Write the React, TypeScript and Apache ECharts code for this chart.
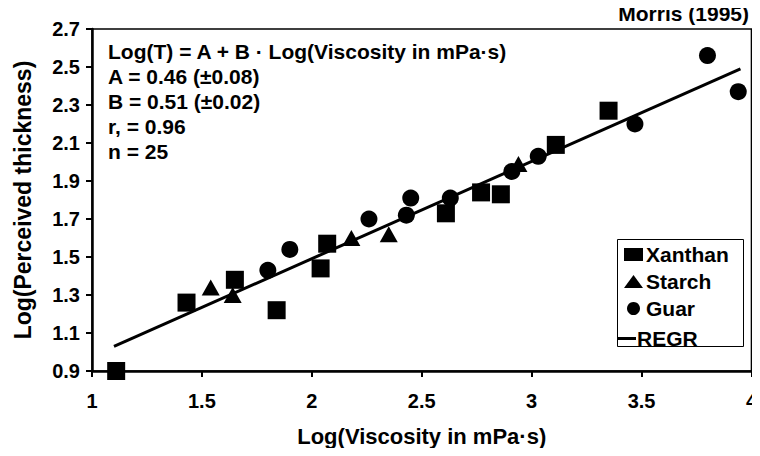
import React, { useEffect, useRef } from "react";
import * as echarts from "echarts";

const xanthan: number[][] = [
  [1.11, 0.9], [1.43, 1.26], [1.65, 1.38], [1.84, 1.22], [2.04, 1.44], [2.07, 1.57],
  [2.61, 1.73], [2.77, 1.84], [2.86, 1.83], [3.11, 2.09], [3.35, 2.27],
];
const starch: number[][] = [
  [1.54, 1.34], [1.64, 1.3], [2.18, 1.6], [2.35, 1.62], [2.94, 1.99],
];
const guar: number[][] = [
  [1.8, 1.43], [1.9, 1.54], [2.26, 1.7], [2.43, 1.72], [2.45, 1.81], [2.63, 1.81],
  [2.91, 1.95], [3.03, 2.03], [3.47, 2.2], [3.8, 2.56], [3.94, 2.37],
];
const regr: number[][] = [[1.1, 1.03], [3.95, 2.49]];

const yTicks = [0.9, 1.1, 1.3, 1.5, 1.7, 1.9, 2.1, 2.3, 2.5, 2.7];
const xTicks = [1, 1.5, 2, 2.5, 3, 3.5, 4];

const annotation = [
  "Log(T) = A + B · Log(Viscosity in mPa·s)",
  "A = 0.46 (±0.08)",
  "B = 0.51 (±0.02)",
  "r, = 0.96",
  "n = 25",
];
const sourceNote = "Morris (1995)";

const FONT = "'Liberation Sans', Arial, Helvetica, sans-serif";

export default function App() {
  const ref = useRef<HTMLDivElement>(null);
  useEffect(() => {
    if (!ref.current) return;
    const chart = echarts.init(ref.current, null, { renderer: "svg" });
    const scatterBase = {
      type: "scatter" as const,
      symbolKeepAspect: true,
      itemStyle: { color: "#000", opacity: 1 },
      emphasis: { disabled: true },
    };
    const legendText = { fontFamily: FONT, fontWeight: "bold", fontSize: 21, color: "#000" };
    chart.setOption({
      animation: false,
      backgroundColor: "#fff",
      textStyle: { fontFamily: FONT, color: "#000" },
      grid: {
        left: 92, right: 5, top: 29, bottom: 85,
        show: true, borderColor: "#000", borderWidth: 1.5, backgroundColor: "transparent",
      },
      xAxis: {
        type: "value",
        min: 1, max: 4, interval: 0.5,
        name: "Log(Viscosity in mPa·s)",
        nameLocation: "middle",
        nameGap: 54,
        nameTextStyle: { fontFamily: FONT, fontWeight: "bold", fontSize: 22, color: "#000" },
        axisLine: { show: true, onZero: false, lineStyle: { color: "#000", width: 2.5 } },
        axisTick: { show: true, length: 6, lineStyle: { color: "#000", width: 2 },
          customValues: xTicks },
        axisLabel: { fontFamily: FONT, fontWeight: "bold", fontSize: 20, color: "#000", margin: 20,
          customValues: xTicks, formatter: (v: number) => String(v) },
        splitLine: { show: false },
      },
      yAxis: {
        type: "value",
        min: 0.9, max: 2.7,
        name: "Log(Perceived thickness)",
        nameLocation: "middle",
        nameGap: 58,
        nameTextStyle: { fontFamily: FONT, fontWeight: "bold", fontSize: 23, color: "#000" },
        axisLine: { show: true, onZero: false, lineStyle: { color: "#000", width: 2.5 } },
        axisTick: { show: true, length: 6, lineStyle: { color: "#000", width: 2 },
          customValues: yTicks },
        axisLabel: { fontFamily: FONT, fontWeight: "bold", fontSize: 20, color: "#000", margin: 12,
          customValues: yTicks, formatter: (v: number) => v.toFixed(1) },
        splitLine: { show: false },
      },
      legend: [
        {
          left: 624, top: 244,
          orient: "vertical",
          padding: 0,
          itemGap: 6,
          itemWidth: 19,
          itemHeight: 13,
          textStyle: { ...legendText, padding: [0, 0, 0, -2] },
          data: ["Xanthan", "Starch", "Guar"],
        },
        {
          left: 617, top: 328,
          orient: "vertical",
          padding: 0,
          itemWidth: 19,
          itemHeight: 3,
          icon: "rect",
          textStyle: { ...legendText, padding: [0, 0, 0, -4] },
          data: ["REGR"],
        },
      ],
      graphic: [
        {
          type: "rect",
          left: 617, top: 239, z: 0,
          shape: { width: 126, height: 107 },
          style: { fill: "#fff", stroke: "#000", lineWidth: 1 },
        },
        {
          type: "text",
          left: 108, top: 39,
          style: {
            text: annotation.join("\n"),
            font: `bold 21px ${FONT}`,
            lineHeight: 25,
            fill: "#000",
          },
        },
        {
          type: "text",
          right: 11, top: 3,
          style: { text: sourceNote, font: `bold 21px ${FONT}`, fill: "#000" },
        },
      ],
      series: [
        { ...scatterBase, name: "Xanthan", symbol: "rect", symbolSize: 18, data: xanthan },
        { ...scatterBase, name: "Starch", symbol: "triangle", symbolSize: [18, 16], data: starch },
        { ...scatterBase, name: "Guar", symbol: "circle", symbolSize: 17, data: guar },
        {
          type: "line", name: "REGR", data: regr, symbol: "none",
          lineStyle: { color: "#000", width: 3 }, itemStyle: { color: "#000" },
          emphasis: { disabled: true }, z: 1,
        },
      ],
    });
    return () => chart.dispose();
  }, []);
  return <div ref={ref} style={{ width: 760, height: 456, margin: -8 }} />;
}
